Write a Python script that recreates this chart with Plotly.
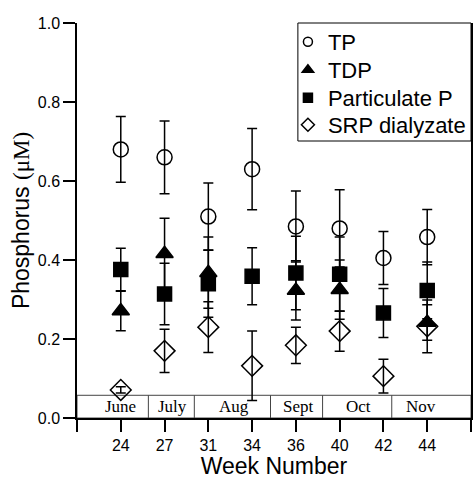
import plotly.graph_objects as go

weeks = ["24", "27", "31", "34", "36", "40", "42", "44"]
tp = [0.68, 0.66, 0.51, 0.63, 0.485, 0.48, 0.405, 0.458]
tp_err = [0.083, 0.092, 0.085, 0.103, 0.09, 0.098, 0.067, 0.07]
tdp = [0.271, 0.416, 0.368, None, 0.323, 0.325, None, 0.242]
tdp_err = [0.05, 0.09, 0.09, 0, 0.075, 0.075, 0, 0.045]
part = [0.376, 0.314, 0.340, 0.359, 0.367, 0.364, 0.266, 0.323]
part_err = [0.054, 0.078, 0.085, 0.072, 0.093, 0.094, 0.062, 0.072]
srp = [0.071, 0.170, 0.230, 0.132, 0.184, 0.220, 0.106, 0.232]
srp_err = [0.008, 0.055, 0.064, 0.088, 0.046, 0.051, 0.043, 0.067]

months = ["June", "July", "Aug", "Sept", "Oct", "Nov"]
month_centers = [1.0, 2.18, 3.58, 5.05, 6.44, 7.85]
month_bounds = [1.63, 2.68, 4.42, 5.61, 7.19]
band_top = 0.0575

xpos = list(range(1, len(weeks) + 1))

L, T, PW, PH = 77, 23, 396, 395
legend_rows_px = [42, 70, 98, 125]

fig = go.Figure()
legend_layouts = {}

def add(i, name, y, err, symbol, size, lsize):
    lname = "legend" if i == 0 else f"legend{i+1}"
    fig.add_trace(go.Scatter(
        x=xpos, y=y, name=name, mode="markers", showlegend=False,
        marker=dict(symbol=symbol, size=size, color="black",
                    line=dict(color="black", width=1.5)),
        error_y=dict(type="data", array=err, visible=True, color="black",
                     thickness=1.5, width=5),
    ))
    fig.add_trace(go.Scatter(
        x=[None], y=[None], name=name, mode="markers", showlegend=True, legend=lname,
        marker=dict(symbol=symbol, size=lsize, color="black",
                    line=dict(color="black", width=1.5)),
    ))
    legend_layouts[lname] = dict(
        x=(289 - L) / PW, y=(T + PH - legend_rows_px[i]) / PH,
        xanchor="left", yanchor="middle",
        font=dict(size=22, family="Liberation Sans", color="black"),
        bgcolor="rgba(0,0,0,0)", borderwidth=0, itemsizing="trace")

add(0, "TP", tp, tp_err, "circle-open", 15, 9)
add(1, "TDP", tdp, tdp_err, "triangle-up", 15, 10)
add(2, "Particulate P", part, part_err, "square", 14, 9)
add(3, "SRP dialyzate", srp, srp_err, "diamond-open", 16, 10)

shapes = [dict(type="rect", xref="x", yref="y", x0=0, x1=9, y0=0, y1=band_top,
               line=dict(color="#444", width=1), layer="below")]
for b in month_bounds:
    shapes.append(dict(type="line", xref="x", yref="y", x0=b, x1=b, y0=0, y1=band_top,
                       line=dict(color="#444", width=1)))
# legend box
shapes.append(dict(type="rect", xref="paper", yref="paper", x0=(299 - L) / PW, x1=1,
                   y0=(T + PH - 141) / PH, y1=1, line=dict(color="black", width=1)))

annotations = [dict(x=c, y=band_top / 2, xref="x", yref="y", text=m, showarrow=False,
                    font=dict(family="Liberation Serif", size=17, color="black"))
               for m, c in zip(months, month_centers)]

fig.update_layout(
    width=473, height=479,
    margin=dict(l=L, r=0, t=T, b=479 - T - PH),
    paper_bgcolor="white", plot_bgcolor="white",
    font=dict(family="Liberation Sans", color="black"),
    showlegend=True,
    shapes=shapes, annotations=annotations,
    xaxis=dict(range=[0, 9], tickmode="array", tickvals=list(range(0, 10)),
               ticktext=[""] + weeks + [""], ticks="outside", ticklen=12,
               tickwidth=1.5, tickcolor="black", showline=True, linecolor="black",
               linewidth=1.5, showgrid=False, zeroline=False,
               tickfont=dict(size=16),
               title=dict(text="Week Number", font=dict(size=23), standoff=1)),
    xaxis2=dict(range=[0, 9], overlaying="x", side="top", anchor="y",
                tickmode="array", tickvals=list(range(0, 10)), showticklabels=False,
                ticks="outside", ticklen=3, tickwidth=1.5, tickcolor="black",
                showline=True, linecolor="black", linewidth=1.5, showgrid=False,
                zeroline=False),
    yaxis=dict(range=[0, 1], dtick=0.2, tickformat=".1f", ticks="outside", ticklen=12,
               tickwidth=1.5, tickcolor="black", showline=True, linecolor="black",
               linewidth=1.5, mirror=True, showgrid=False, zeroline=False,
               tickfont=dict(size=16),
               title=dict(text="Phosphorus <span style='font-family:Liberation Serif'>(μM)</span>",
                          font=dict(size=23), standoff=2)),
    **legend_layouts,
)

fig.write_html("out.html", config={"displayModeBar": False},
               post_script="document.body.style.margin='0';document.body.style.overflow='hidden';")
